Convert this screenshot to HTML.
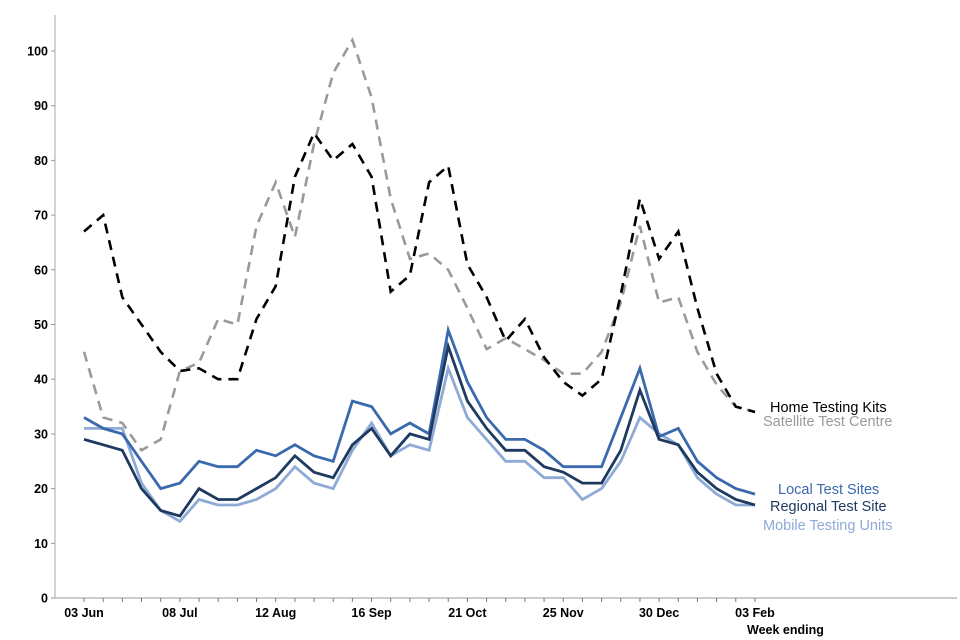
<!DOCTYPE html>
<html><head><meta charset="utf-8"><style>
html,body{margin:0;padding:0;background:#fff;}
svg{display:block;font-family:"Liberation Sans",Arial,sans-serif;}
</style></head><body>
<svg id="chart" width="960" height="640"></svg>
<script>
const categories=["03 Jun","10 Jun","17 Jun","24 Jun","01 Jul","08 Jul","15 Jul","22 Jul","29 Jul","05 Aug","12 Aug","19 Aug","26 Aug","02 Sep","09 Sep","16 Sep","23 Sep","30 Sep","07 Oct","14 Oct","21 Oct","28 Oct","04 Nov","11 Nov","18 Nov","25 Nov","02 Dec","09 Dec","16 Dec","23 Dec","30 Dec","06 Jan","13 Jan","20 Jan","27 Jan","03 Feb"];
const homeKits=[67,70,55,50,45,41.5,42,40,40,51,57,77,85,80,83,77,56,59,76,79,61,55,47,51,44,39.5,37,40,55.5,73,62,67,53,41,35,34];
const satellite=[45,33,32,27,29,41.5,43,51,50,68,76,66,83,96,102,91.5,73,62,63,60,53,45.5,47.5,45.5,43.5,41,41,45,54,68,54,55,45,39,35,34];
const localSites=[33,31,30,25,20,21,25,24,24,27,26,28,26,25,36,35,30,32,30,49,39.5,33,29,29,27,24,24,24,33,42,29.5,31,25,22,20,19];
const regional=[29,28,27,20,16,15,20,18,18,20,22,26,23,22,28,31,26,30,29,46,36,31,27,27,24,23,21,21,27,38,29,28,23,20,18,17];
const mobile=[31,31,31,21,16,14,18,17,17,18,20,24,21,20,27,32,26,28,27,42,33,29,25,25,22,22,18,20,25,33,30,28,22,19,17,17];
const yTicks=[0,10,20,30,40,50,60,70,80,90,100];
const xLabelIdx=[0,5,10,15,20,25,30,35];

const NS="http://www.w3.org/2000/svg";
const svg=document.getElementById('chart');
const X0=84,STEP=19.17,Y0=598,YS=5.47;
const xs=i=>X0+STEP*i;
const ys=v=>Y0-YS*v;
function mk(tag,attrs,parent){const e=document.createElementNS(NS,tag);for(const k in attrs)e.setAttribute(k,attrs[k]);(parent||svg).appendChild(e);return e;}

const axes=mk('g',{});


const ya=mk('line',{x1:55,y1:15,x2:55,y2:598,stroke:'#bbb','stroke-width':1.3},axes);


const xa=mk('line',{x1:55,y1:598,x2:957,y2:598,stroke:'#999','stroke-width':1},axes);


yTicks.forEach(v=>{
  mk('line',{x1:51,y1:ys(v),x2:55,y2:ys(v),stroke:'#999'},axes);
  const t=mk('text',{x:48,y:ys(v)+4.5,'text-anchor':'end','font-size':12.5,'font-weight':'bold',fill:'#000'},axes);
  t.textContent=v;
  
  
});
categories.forEach((c,i)=>{mk('line',{x1:xs(i),y1:598,x2:xs(i),y2:602,stroke:'#777'},axes);});
xLabelIdx.forEach(i=>{
  const t=mk('text',{x:xs(i),y:617,'text-anchor':'middle','font-size':12.5,'font-weight':'bold',fill:'#000'},axes);
  t.textContent=categories[i];
  
  
});
const wt=mk('text',{x:747,y:634,'font-size':12.5,'font-weight':'bold',fill:'#000'},axes);
wt.textContent='Week ending';



function series(data,color,dash,name,label,lx,ly){
  const d=data.map((v,i)=>(i?'L':'M')+xs(i).toFixed(1)+' '+ys(v).toFixed(1)).join(' ');
  const p=mk('path',{d:d,fill:'none',stroke:color,'stroke-width':dash?2.6:2.8,'stroke-dasharray':dash||'none','stroke-linejoin':'miter'});
  
  
  const t=mk('text',{x:lx,y:ly,'font-size':14.5,fill:color});
  t.textContent=label;
  
  
}
series(satellite,'#9a9a9a','10,7','satellite-test-centre-line','Satellite Test Centre',763,426);
series(homeKits,'#000','10,7','home-testing-kits-line','Home Testing Kits',770,412);
series(mobile,'#8eaad6',null,'mobile-testing-units-line','Mobile Testing Units',763,530);
series(localSites,'#3a69ad',null,'local-test-sites-line','Local Test Sites',778,494);
series(regional,'#1f3a60',null,'regional-test-site-line','Regional Test Site',770,511);
</script>
</body></html>
